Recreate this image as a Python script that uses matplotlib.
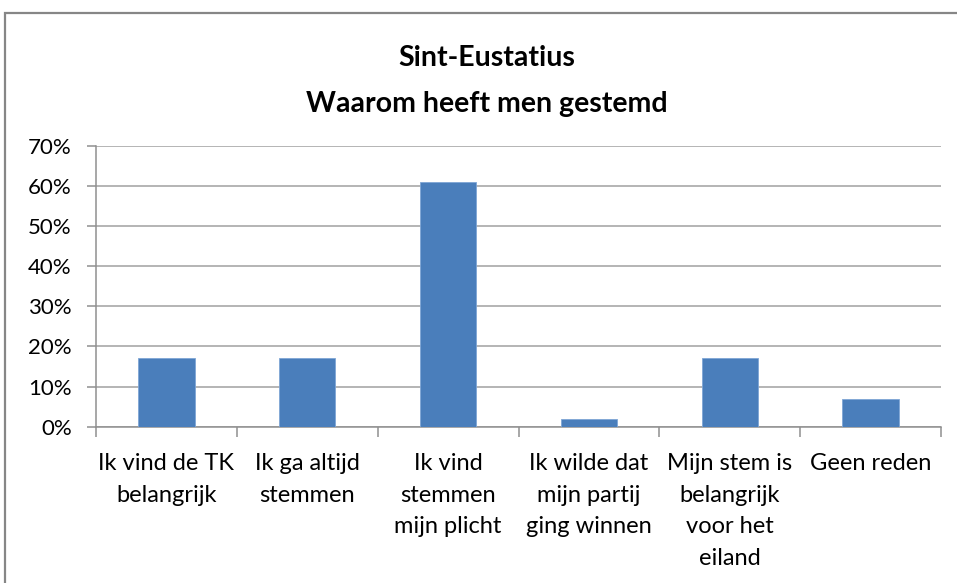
import matplotlib.pyplot as plt
from matplotlib.patches import Rectangle
from matplotlib.ticker import FuncFormatter

# data
categories = ["Ik vind de TK\nbelangrijk",
              "Ik ga altijd\nstemmen",
              "Ik vind\nstemmen\nmijn plicht",
              "Ik wilde dat\nmijn partij\nging winnen",
              "Mijn stem is\nbelangrijk\nvoor het\neiland",
              "Geen reden"]
percentages = [17.0, 17.0, 61.0, 2.0, 17.0, 7.0]
y_ticks = [0, 10, 20, 30, 40, 50, 60, 70]

plt.rcParams['font.family'] = ['Lato', 'DejaVu Sans']

fig = plt.figure(figsize=(9.57, 5.83), dpi=100)
ax = fig.add_axes([0.1003, 0.2681, 0.8830, 0.4823])

x = list(range(len(categories)))
ax.bar(x, percentages, width=0.4, color='#4A7EBB', edgecolor='#7EA6D6',
       linewidth=0.6, zorder=3)

ax.set_xlim(-0.5, len(categories) - 0.5)
ax.set_ylim(0, 70)
ax.set_yticks(y_ticks)
ax.yaxis.set_major_formatter(FuncFormatter(lambda v, p: '%d%%' % v))
ax.grid(axis='y', color='#A0A0A0', linewidth=1.1, zorder=0)

# category labels between boundary ticks
ax.set_xticks(x)
ax.set_xticklabels(categories, fontsize=17, linespacing=1.62, va='top')
ax.tick_params(axis='x', which='major', length=0, pad=19)
ax.set_xticks([i - 0.5 for i in range(len(categories) + 1)], minor=True)
ax.tick_params(axis='x', which='minor', length=7, width=1.1, color='#909090',
               direction='out')
ax.tick_params(axis='y', length=6.5, width=1.1, color='#909090', pad=11,
               labelsize=16)

for s in ['top', 'right']:
    ax.spines[s].set_visible(False)
ax.spines['left'].set_color('#909090')
ax.spines['bottom'].set_color('#909090')
ax.spines['left'].set_linewidth(1.1)
ax.spines['bottom'].set_linewidth(1.1)

fig.text(0.509, 1 - 66 / 583, "Sint-Eustatius", ha='center', va='baseline',
         fontsize=20.5, fontweight='bold')
fig.text(0.509, 1 - 112 / 583, "Waarom heeft men gestemd", ha='center',
         va='baseline', fontsize=20.5, fontweight='bold')

# chart frame, runs off the right and bottom edges
fig.patches.append(Rectangle((5 / 957, -0.1), 1.2, 1.1 - 13 / 583,
                             transform=fig.transFigure, fill=False,
                             edgecolor='#868686', linewidth=1.6))

fig.savefig('out.png', dpi=100)
